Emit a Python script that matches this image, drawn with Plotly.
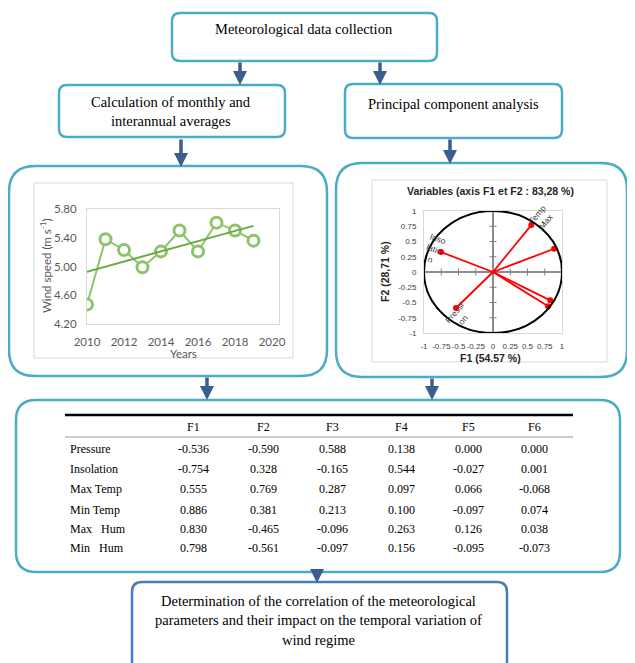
import plotly.graph_objects as go
import numpy as np

# ---------------- data ----------------
years = [2010, 2011, 2012, 2013, 2014, 2015, 2016, 2017, 2018, 2019]
wind_speed = [4.47, 5.38, 5.23, 4.99, 5.21, 5.50, 5.21, 5.61, 5.50, 5.36]
wind_ticks = [4.20, 4.60, 5.00, 5.40, 5.80]
year_ticks = [2010, 2012, 2014, 2016, 2018, 2020]

variables = ["Pressure", "Insolation", "Max Temp", "Min Temp", "Max  Hum", "Min  Hum"]
F1 = [-0.536, -0.754, 0.555, 0.886, 0.830, 0.798]
F2 = [-0.590, 0.328, 0.769, 0.381, -0.465, -0.561]
F3 = [0.588, -0.165, 0.287, 0.213, -0.096, -0.097]
F4 = [0.138, 0.544, 0.097, 0.100, 0.263, 0.156]
F5 = [0.000, -0.027, 0.066, -0.097, 0.126, -0.095]
F6 = [0.000, 0.001, -0.068, 0.074, 0.038, -0.073]
factor_names = ["F1", "F2", "F3", "F4", "F5", "F6"]
pca_ticks = [-1, -0.75, -0.5, -0.25, 0, 0.25, 0.5, 0.75, 1]

W, H = 635, 663
OFF = 8  # page body margin: shift so that page pixels match reference pixels
BOX = "#4BACC6"
ARROW = "#3B5E8F"
SERIF = "Liberation Serif"

fig = go.Figure()

def rrect(x0, y0, x1, y1, r):
    return (f"M {x0+r},{y0} L {x1-r},{y0} Q {x1},{y0} {x1},{y0+r} "
            f"L {x1},{y1-r} Q {x1},{y1} {x1-r},{y1} L {x0+r},{y1} "
            f"Q {x0},{y1} {x0},{y1-r} L {x0},{y0+r} Q {x0},{y0} {x0+r},{y0} Z")

shapes = []
annotations = []

def box(x0, y0, x1, y1, r, color=BOX, w=2.5):
    shapes.append(dict(type="path", path=rrect(x0, y0, x1, y1, r), xref="x", yref="y",
                       line=dict(color=color, width=w), fillcolor="white", layer="below"))

def arrow(x, y0, y1):
    annotations.append(dict(x=x, y=y1, ax=x, ay=y0, xref="x", yref="y", axref="x", ayref="y",
                            text="", showarrow=True, arrowhead=2, arrowsize=0.8,
                            arrowwidth=3.5, arrowcolor=ARROW))

def txt(x, y, s, size=14.5, family=SERIF, color="black", xanchor="center", angle=0, xref="x", yref="y", bold=False):
    if bold:
        s = f"<b>{s}</b>"
    annotations.append(dict(x=x, y=y, xref=xref, yref=yref, text=s, showarrow=False,
                            font=dict(size=size, family=family, color=color),
                            xanchor=xanchor, yanchor="middle", textangle=angle))

# flowchart boxes
box(172, 13, 437, 61, 8)
box(59, 85, 285, 137, 8)
box(345, 84, 562, 138, 8)
box(9, 166, 327, 376, 26)
box(336, 163, 627, 377, 26)
box(16, 400, 620, 572, 20)
box(132, 582, 507, 675, 10, color="#4A7BBE")

# chart frames
shapes.append(dict(type="rect", x0=34, y0=183, x1=293, y1=358, xref="x", yref="y",
                   line=dict(color="#D9D9D9", width=1), fillcolor="white", layer="below"))
shapes.append(dict(type="rect", x0=372, y0=180, x1=607, y1=362, xref="x", yref="y",
                   line=dict(color="#D9D9D9", width=1), fillcolor="white", layer="below"))

# arrows
arrow(240, 61, 85)
arrow(380, 61, 85)
arrow(181, 138, 167)
arrow(450, 138, 164)
arrow(207, 376, 400)
arrow(432, 377, 400)
arrow(317, 572, 583)

# box texts
txt(304, 29, "Meteorological data collection")
txt(171, 102, "Calculation of monthly and")
txt(171, 121, "interannual averages")
txt(453, 104, "Principal component analysis")
txt(318, 601, "Determination of the correlation of the meteorological")
txt(318, 620, "parameters and their impact on the temporal variation of")
txt(318, 640, "wind regime")

# table
shapes.append(dict(type="line", x0=65, x1=573, y0=415, y1=415, xref="x", yref="y",
                   line=dict(color="black", width=2.5)))
shapes.append(dict(type="line", x0=65, x1=573, y0=437, y1=437, xref="x", yref="y",
                   line=dict(color="#9A9A9A", width=1)))
col_x = [193, 263, 332, 401, 468, 534]
row_y = [449, 469, 489, 510, 529, 548]
for cx, name in zip(col_x, factor_names):
    txt(cx, 427, name, size=12)
cols = [F1, F2, F3, F4, F5, F6]
for i, v in enumerate(variables):
    txt(68, row_y[i], v.replace("  ", "\u00a0\u00a0 "), size=12, xanchor="left")
    for cx, col in zip(col_x, cols):
        txt(cx, row_y[i], f"{col[i]:.3f}", size=12)

# ---------------- wind speed chart ----------------
def px_dom_x(a, b):
    return [(a - OFF) / W, (b - OFF) / W]

def px_dom_y(top, bottom):
    return [1 - (bottom - OFF) / H, 1 - (top - OFF) / H]

coef = np.polyfit(years, wind_speed, 1)
trend_x = [years[0], years[-1]]
trend_y = [float(np.polyval(coef, x)) for x in trend_x]

fig.add_trace(go.Scatter(x=years, y=wind_speed, mode="lines+markers", xaxis="x2", yaxis="y2",
                         line=dict(color="#8CC46A", width=2),
                         marker=dict(size=11, color="white", line=dict(color="#8CC46A", width=3)),
                         showlegend=False))
fig.add_trace(go.Scatter(x=trend_x, y=trend_y, mode="lines", xaxis="x2", yaxis="y2",
                         line=dict(color="#6BAA45", width=2), showlegend=False))

lato_gray = dict(family="Lato", size=11.5, color="#595959")
txt(45, 266, "Wind speed (m s<sup>-1</sup>)", size=11.5, family="Lato", color="#595959", angle=-90)
txt(183, 353, "Years", size=11.5, family="Lato", color="#595959")

# ---------------- PCA circle chart ----------------
fig.add_trace(go.Scatter(x=[0] * len(pca_ticks), y=pca_ticks, mode="markers", xaxis="x3", yaxis="y3",
                         marker=dict(symbol="line-ew", size=5, line=dict(color="#808080", width=1)),
                         showlegend=False, hoverinfo="skip"))
fig.add_trace(go.Scatter(x=pca_ticks, y=[0] * len(pca_ticks), mode="markers", xaxis="x3", yaxis="y3",
                         marker=dict(symbol="line-ns", size=5, line=dict(color="#808080", width=1)),
                         showlegend=False, hoverinfo="skip"))
vx, vy = [], []
for a, b in zip(F1, F2):
    vx += [0, a, None]
    vy += [0, b, None]
fig.add_trace(go.Scatter(x=vx, y=vy, mode="lines", xaxis="x3", yaxis="y3",
                         line=dict(color="#FF0000", width=1.8), showlegend=False))
fig.add_trace(go.Scatter(x=F1, y=F2, mode="markers", xaxis="x3", yaxis="y3",
                         marker=dict(color="#FF0000", size=6), showlegend=False))
shapes.append(dict(type="circle", x0=-1, y0=-1, x1=1, y1=1, xref="x3", yref="y3",
                   line=dict(color="black", width=2)))

lab = dict(size=8.5, family="Liberation Sans", color="#404040", xref="x3", yref="y3")
txt(-0.86, 0.37, "Inso<br>latio<br>n", angle=20, **lab)
txt(0.71, 0.89, "Temp<br>Max", angle=-50, **lab)
txt(1.14, 0.38, "Tem<br>p<br>Min", angle=-20, **lab)
txt(1.10, -0.55, "Hum<br>Max", angle=-30, **lab)
txt(1.07, -0.64, "Hum<br>Min", angle=-30, **lab)
txt(-0.50, -0.73, "Pressi<br>on", angle=-50, **lab)

txt(490, 191, "Variables (axis F1 et F2 : 83,28 %)", size=10.5, family="Liberation Sans",
    color="#262626", bold=True)
txt(490, 358, "F1 (54.57 %)", size=10.5, family="Liberation Sans", color="#262626", bold=True)
txt(385, 272, "F2 (28,71 %)", size=10.5, family="Liberation Sans", color="#262626", bold=True, angle=-90)

pca_font = dict(family="Liberation Sans", size=8, color="#404040")
fig.update_layout(
    width=W, height=H, margin=dict(l=0, r=0, t=0, b=0, autoexpand=False),
    paper_bgcolor="white", plot_bgcolor="rgba(0,0,0,0)",
    shapes=shapes, annotations=annotations,
    xaxis=dict(range=[OFF, W + OFF], domain=[0, 1], visible=False, fixedrange=True, automargin=False),
    yaxis=dict(range=[H + OFF, OFF], domain=[0, 1], visible=False, fixedrange=True, automargin=False),
    xaxis2=dict(domain=px_dom_x(87, 279), anchor="y2", range=[2010, 2020.38],
                tickvals=year_ticks, showline=True, mirror=True, linecolor="#D9D9D9",
                showgrid=False, zeroline=False, tickfont=lato_gray, ticks="", automargin=False,
                ticklabelstandoff=7),
    yaxis2=dict(domain=px_dom_y(209, 324), anchor="x2", range=[4.2, 5.8],
                tickvals=wind_ticks, tickformat=".2f", showline=True, mirror=True,
                linecolor="#D9D9D9", showgrid=False, zeroline=False, tickfont=lato_gray, ticks="",
                automargin=False, ticklabelstandoff=7),
    xaxis3=dict(domain=px_dom_x(424, 562), anchor="y3", range=[-1, 1],
                tickvals=pca_ticks, ticktext=[str(t) for t in pca_ticks], tickangle=0,
                showline=True, mirror=True, linecolor="#D9D9D9", showgrid=False,
                zeroline=True, zerolinecolor="#8C8C8C", zerolinewidth=1.5,
                tickfont=pca_font, ticks="", automargin=False, ticklabelstandoff=5),
    yaxis3=dict(domain=px_dom_y(211, 333), anchor="x3", range=[-1, 1],
                tickvals=pca_ticks, ticktext=[str(t) for t in pca_ticks],
                showline=True, mirror=True, linecolor="#D9D9D9", showgrid=False,
                zeroline=True, zerolinecolor="#8C8C8C", zerolinewidth=1.5,
                tickfont=pca_font, ticks="", automargin=False, ticklabelstandoff=5),
)

fig.write_html("out.html")
